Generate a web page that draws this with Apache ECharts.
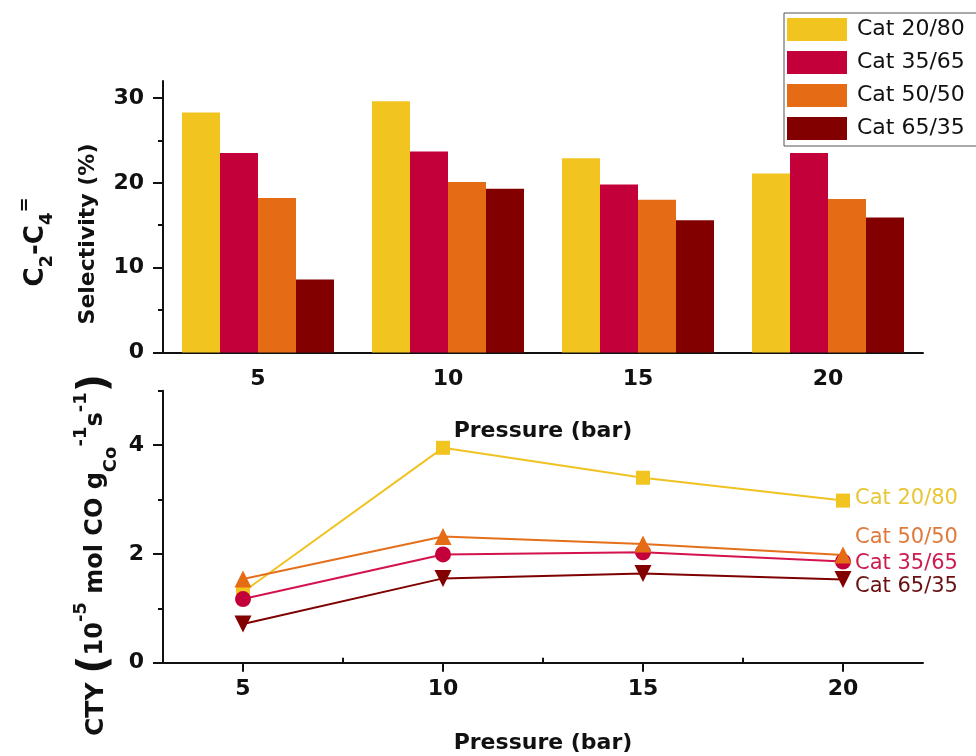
<!DOCTYPE html>
<html>
<head>
<meta charset="utf-8">
<script src="https://cdn.jsdelivr.net/npm/echarts@6/dist/echarts.min.js"></script>
<style>
  html, body { margin: 0; padding: 0; background: #fff; }
  #chart { width: 976px; height: 756px; }
</style>
</head>
<body>
<div id="chart"></div>
<script>
// Pressure levels (bar)
const pressures = [5, 10, 15, 20];
const pressureLabels = ['5', '10', '15', '20'];

// Catalyst series names
const catNames = ['Cat 20/80', 'Cat 35/65', 'Cat 50/50', 'Cat 65/35'];

// C2-C4 olefin selectivity (%)
const sel2080 = [28.3, 29.6, 22.9, 21.1];
const sel3565 = [23.5, 23.7, 19.8, 23.5];
const sel5050 = [18.2, 20.1, 18.0, 18.1];
const sel6535 = [8.6, 19.3, 15.6, 15.9];

// CTY (10^-5 mol CO gCo^-1 s^-1)
const cty2080 = [1.30, 3.95, 3.40, 2.98];
const cty3565 = [1.17, 1.99, 2.03, 1.86];
const cty5050 = [1.54, 2.32, 2.18, 1.98];
const cty6535 = [0.71, 1.55, 1.64, 1.53];

// Axis tick positions
const selMajor = [0, 10, 20, 30];
const selMinor = [5, 15, 25];
const ctyMajor = [0, 2, 4];
const ctyMinor = [1, 3, 5];
const pMinor = [7.5, 12.5, 17.5];

const colors = ['#F2C420', '#C4003A', '#E56C14', '#820000'];
const lineColors = ['#EFC322', '#D3124E', '#E5701C', '#7E0000'];
const labelColors = ['#E8C634', '#CC1C50', '#E07A3C', '#6A1010'];

const FONT = 'DejaVu Sans';
const tickFont = { fontFamily: FONT, fontWeight: 'bold', fontSize: 22, color: '#111' };
const axisLine = { lineStyle: { color: '#111', width: 2 } };

const chart = echarts.init(document.getElementById('chart'));

const pairs = arr => arr.map((v, i) => [pressures[i], v]);

const option = {
  animation: false,
  textStyle: { fontFamily: FONT },
  grid: [
    { left: 163, top: 81, width: 760, height: 271.5 },
    { left: 163, top: 390.7, width: 760, height: 272 }
  ],
  legend: {
    data: catNames,
    orient: 'vertical',
    left: 784,
    top: 13,
    itemWidth: 60,
    itemHeight: 23,
    itemGap: 10,
    icon: 'rect',
    padding: [5, 24, 6, 3],
    borderColor: '#555',
    borderWidth: 1,
    textStyle: { fontFamily: FONT, fontSize: 22, color: '#111', padding: [0, 0, 0, 5] }
  },
  xAxis: [
    {
      gridIndex: 0, type: 'category', data: pressureLabels,
      axisLine: axisLine,
      axisTick: { alignWithLabel: true, length: 9, lineStyle: { width: 2, color: '#111' } },
      axisLabel: Object.assign({ margin: 16 }, tickFont),
      name: 'Pressure (bar)', nameLocation: 'middle', nameGap: 68,
      nameTextStyle: { fontFamily: FONT, fontWeight: 'bold', fontSize: 22, color: '#111' }
    },
    {
      gridIndex: 0, type: 'category', data: pressureLabels,
      axisLine: { show: false },
      axisTick: { length: 5, lineStyle: { width: 2, color: '#111' } },
      axisLabel: { show: false }
    },
    {
      gridIndex: 1, type: 'value', min: 3, max: 22,
      splitLine: { show: false },
      axisLine: axisLine,
      axisTick: { customValues: pressures, length: 9, lineStyle: { width: 2, color: '#111' } },
      axisLabel: Object.assign({ customValues: pressures, margin: 16 }, tickFont),
      name: 'Pressure (bar)', nameLocation: 'middle', nameGap: 70,
      nameTextStyle: { fontFamily: FONT, fontWeight: 'bold', fontSize: 22, color: '#111' }
    },
    {
      gridIndex: 1, type: 'value', min: 3, max: 22,
      splitLine: { show: false },
      axisLine: { show: false },
      axisTick: { customValues: pMinor, length: 5, lineStyle: { width: 2, color: '#111' } },
      axisLabel: { show: false }
    }
  ],
  yAxis: [
    {
      gridIndex: 0, type: 'value', min: 0, max: 32, position: 'left',
      splitLine: { show: false },
      axisLine: Object.assign({ show: true }, axisLine),
      axisTick: { show: true, customValues: selMajor, length: 10, lineStyle: { width: 2, color: '#111' } },
      axisLabel: Object.assign({ customValues: selMajor, margin: 19 }, tickFont)
    },
    {
      gridIndex: 0, type: 'value', min: 0, max: 32, position: 'left',
      splitLine: { show: false },
      axisLine: { show: false },
      axisTick: { show: true, customValues: selMinor, length: 5, lineStyle: { width: 2, color: '#111' } },
      axisLabel: { show: false }
    },
    {
      gridIndex: 1, type: 'value', min: 0, max: 5, position: 'left',
      splitLine: { show: false },
      axisLine: Object.assign({ show: true }, axisLine),
      axisTick: { show: true, customValues: ctyMajor, length: 10, lineStyle: { width: 2, color: '#111' } },
      axisLabel: Object.assign({ customValues: ctyMajor, margin: 19 }, tickFont)
    },
    {
      gridIndex: 1, type: 'value', min: 0, max: 5, position: 'left',
      splitLine: { show: false },
      axisLine: { show: false },
      axisTick: { show: true, customValues: ctyMinor, length: 5, lineStyle: { width: 2, color: '#111' } },
      axisLabel: { show: false }
    }
  ],
  graphic: [
    {
      type: 'text', x: 36, y: 242, rotation: Math.PI / 2,
      style: {
        text: '{c|C}{s|2}{c|-C}{s|4}{p|=}',
        align: 'center', verticalAlign: 'middle',
        rich: {
          c: { fontFamily: FONT, fontWeight: 'bold', fontSize: 26, fill: '#111', lineHeight: 40 },
          s: { fontFamily: FONT, fontWeight: 'bold', fontSize: 18, fill: '#111', verticalAlign: 'bottom', lineHeight: 22 },
          p: { fontFamily: FONT, fontWeight: 'bold', fontSize: 18, fill: '#111', verticalAlign: 'top', lineHeight: 18 }
        }
      }
    },
    {
      type: 'text', x: 88, y: 234, rotation: Math.PI / 2,
      style: {
        text: 'Selectivity (%)', align: 'center', verticalAlign: 'middle',
        fontFamily: FONT, fontWeight: 'bold', fontSize: 22, fill: '#111'
      }
    },
    {
      type: 'text', x: 96, y: 555, rotation: Math.PI / 2,
      style: {
        text: '{b|CTY }{p|(}{n|10}{u|-5}{n| mol CO g}{d|Co}{u|-1}{n|s}{u|-1}{p|)}',
        align: 'center', verticalAlign: 'middle',
        rich: {
          b: { fontFamily: FONT, fontWeight: 'bold', fontSize: 25, fill: '#111', lineHeight: 48 },
          n: { fontFamily: FONT, fontWeight: 'bold', fontSize: 24, fill: '#111', lineHeight: 48 },
          p: { fontFamily: FONT, fontWeight: 'bold', fontSize: 40, fill: '#111', lineHeight: 48 },
          u: { fontFamily: FONT, fontWeight: 'bold', fontSize: 18, fill: '#111', verticalAlign: 'top', lineHeight: 22 },
          d: { fontFamily: FONT, fontWeight: 'bold', fontSize: 18, fill: '#111', verticalAlign: 'bottom', lineHeight: 24 }
        }
      }
    }
  ],
  series: [
    { name: catNames[0], type: 'bar', xAxisIndex: 0, yAxisIndex: 0, data: sel2080, itemStyle: { color: colors[0] }, barGap: '0%', barCategoryGap: '20%' },
    { name: catNames[1], type: 'bar', xAxisIndex: 0, yAxisIndex: 0, data: sel3565, itemStyle: { color: colors[1] }, barGap: '0%', barCategoryGap: '20%' },
    { name: catNames[2], type: 'bar', xAxisIndex: 0, yAxisIndex: 0, data: sel5050, itemStyle: { color: colors[2] }, barGap: '0%', barCategoryGap: '20%' },
    { name: catNames[3], type: 'bar', xAxisIndex: 0, yAxisIndex: 0, data: sel6535, itemStyle: { color: colors[3] }, barGap: '0%', barCategoryGap: '20%' },
    {
      name: catNames[0], type: 'line', xAxisIndex: 2, yAxisIndex: 2, data: pairs(cty2080),
      symbol: 'rect', symbolSize: 14,
      lineStyle: { color: lineColors[0], width: 2 }, itemStyle: { color: colors[0] },
      endLabel: { show: true, formatter: catNames[0], color: labelColors[0], fontFamily: FONT, fontSize: 21, distance: 12, offset: [0, -2] }
    },
    {
      name: catNames[3], type: 'line', xAxisIndex: 2, yAxisIndex: 2, data: pairs(cty6535),
      symbol: 'triangle', symbolRotate: 180, symbolSize: 17,
      lineStyle: { color: lineColors[3], width: 2 }, itemStyle: { color: colors[3] },
      endLabel: { show: true, formatter: catNames[3], color: labelColors[3], fontFamily: FONT, fontSize: 21, distance: 12, offset: [0, 7] }
    },
    {
      name: catNames[1], type: 'line', xAxisIndex: 2, yAxisIndex: 2, data: pairs(cty3565),
      symbol: 'circle', symbolSize: 16,
      lineStyle: { color: lineColors[1], width: 2 }, itemStyle: { color: colors[1] },
      endLabel: { show: true, formatter: catNames[1], color: labelColors[1], fontFamily: FONT, fontSize: 21, distance: 12, offset: [0, 2] }
    },
    {
      name: catNames[2], type: 'line', xAxisIndex: 2, yAxisIndex: 2, data: pairs(cty5050),
      symbol: 'triangle', symbolSize: 17,
      lineStyle: { color: lineColors[2], width: 2 }, itemStyle: { color: colors[2] },
      endLabel: { show: true, formatter: catNames[2], color: labelColors[2], fontFamily: FONT, fontSize: 21, distance: 12, offset: [0, -17] }
    }
  ]
};

chart.setOption(option);
</script>
</body>
</html>
